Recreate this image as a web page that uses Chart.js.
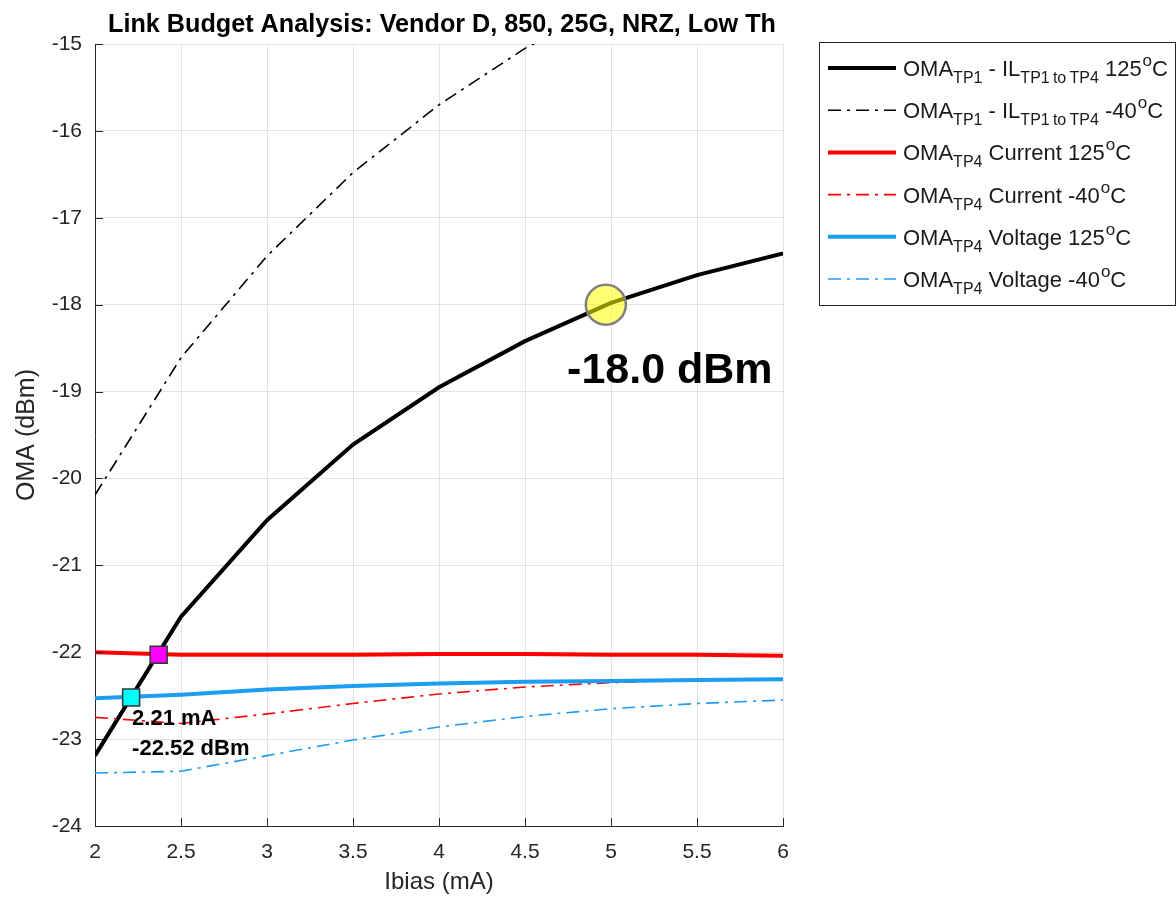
<!DOCTYPE html>
<html>
<head>
<meta charset="utf-8">
<title>Link Budget Analysis</title>
<script src="https://cdn.jsdelivr.net/npm/chart.js@4.4.1/dist/chart.umd.min.js"></script>
<style>
  html, body { margin: 0; padding: 0; background: #fff; }
  #wrap { width: 1176px; height: 897px; position: relative; }
</style>
</head>
<body>
<div id="wrap"><canvas id="chart"></canvas></div>
<script>
/* Link budget: OMA vs bias current, Vendor D */

// ─── Data ────────────────────────────────────────────────────────────────────

const ibias       = [2, 2.5, 3, 3.5, 4, 4.5, 5, 5.5, 6];
const tp1Hot      = [-23.19, -21.59, -20.48, -19.61, -18.95, -18.42, -17.98, -17.66, -17.41];
const tp1Cold     = [-20.19, -18.61, -17.44, -16.48, -15.70, -15.05, -14.55];
const currentHot  = [-22.00, -22.03, -22.03, -22.03, -22.02, -22.02, -22.03, -22.03, -22.04];
const currentCold = [-22.75, -22.82, -22.71, -22.59, -22.48, -22.40, -22.35, -22.32, -22.31];
const voltageHot  = [-22.53, -22.49, -22.43, -22.39, -22.36, -22.34, -22.33, -22.32, -22.31];
const voltageCold = [-23.39, -23.37, -23.19, -23.01, -22.86, -22.74, -22.65, -22.59, -22.55];

const crossCurrent = { x: 2.37, y: -22.03 };
const crossVoltage = { x: 2.21, y: -22.52 };
const target       = { x: 4.97, y: -18.0 };

const xTicks = [2, 2.5, 3, 3.5, 4, 4.5, 5, 5.5, 6];
const yTicks = [-24, -23, -22, -21, -20, -19, -18, -17, -16, -15];

// legend text pieces: [text, 'n' | 'sub' | 'sup']
const legendLabels = [
  [['OMA', 'n'], ['TP1', 'sub'], [' - IL', 'n'], ['TP1\u2009to\u2009TP4', 'sub'], [' 125', 'n'], ['o', 'sup'], ['C', 'n']],
  [['OMA', 'n'], ['TP1', 'sub'], [' - IL', 'n'], ['TP1\u2009to\u2009TP4', 'sub'], [' -40', 'n'], ['o', 'sup'], ['C', 'n']],
  [['OMA', 'n'], ['TP4', 'sub'], [' Current 125', 'n'], ['o', 'sup'], ['C', 'n']],
  [['OMA', 'n'], ['TP4', 'sub'], [' Current -40', 'n'], ['o', 'sup'], ['C', 'n']],
  [['OMA', 'n'], ['TP4', 'sub'], [' Voltage 125', 'n'], ['o', 'sup'], ['C', 'n']],
  [['OMA', 'n'], ['TP4', 'sub'], [' Voltage -40', 'n'], ['o', 'sup'], ['C', 'n']],
];

// ─── Styles ──────────────────────────────────────────────────────────────────

const RED  = '#ff0000';
const BLUE = '#1c9cf2';
const INK  = '#262626';
const DASH_DOT = [13, 6, 3, 6];
const FONT = '"Liberation Sans", Arial, Helvetica, sans-serif';

const toPoints = ys => ys.map((y, i) => ({ x: ibias[i], y }));

function series(label, ys, color, solid, order) {
  return {
    label,
    data: toPoints(ys),
    borderColor: color,
    backgroundColor: color,
    borderWidth: solid ? 4 : 1.6,
    borderDash: solid ? [] : DASH_DOT,
    pointRadius: 0,
    tension: 0,
    fill: false,
    order,
  };
}

const datasets = [
  series('OMA TP1 - IL 125°C', tp1Hot, '#000000', true, 6),
  series('OMA TP1 - IL -40°C', tp1Cold, '#000000', false, 7),
  series('OMA TP4 Current 125°C', currentHot, RED, true, 5),
  series('OMA TP4 Current -40°C', currentCold, RED, false, 4),
  series('OMA TP4 Voltage 125°C', voltageHot, BLUE, true, 3),
  series('OMA TP4 Voltage -40°C', voltageCold, BLUE, false, 2),
  {
    label: 'current crossing', data: [crossCurrent], showLine: false,
    pointStyle: 'rect', pointRadius: 12, pointBackgroundColor: '#ff00ff',
    pointBorderColor: '#333', pointBorderWidth: 1.5, order: 1,
  },
  {
    label: 'voltage crossing', data: [crossVoltage], showLine: false,
    pointStyle: 'rect', pointRadius: 12, pointBackgroundColor: '#00ffff',
    pointBorderColor: '#333', pointBorderWidth: 1.5, order: 1,
  },
  {
    label: 'target', data: [target], showLine: false,
    pointStyle: 'circle', pointRadius: 20, pointBackgroundColor: 'rgba(255,255,0,0.55)',
    pointBorderColor: '#808080', pointBorderWidth: 2.5, order: 0,
  },
];

// ─── Plugins ─────────────────────────────────────────────────────────────────

const decorations = {
  id: 'decorations',
  afterDatasetsDraw(chart) {
    const { ctx, chartArea: a, scales: { x, y } } = chart;
    ctx.save();

    // inward tick marks (MATLAB style)
    ctx.strokeStyle = INK;
    ctx.lineWidth = 1;
    ctx.beginPath();
    xTicks.forEach(v => {
      const px = Math.round(x.getPixelForValue(v)) + 0.5;
      ctx.moveTo(px, a.bottom); ctx.lineTo(px, a.bottom - 8);
    });
    yTicks.forEach(v => {
      const py = Math.round(y.getPixelForValue(v)) + 0.5;
      ctx.moveTo(a.left, py); ctx.lineTo(a.left + 8, py);
    });
    ctx.stroke();

    // annotations
    ctx.fillStyle = '#000';
    ctx.textBaseline = 'alphabetic';
    ctx.textAlign = 'left';
    ctx.font = `bold 22px ${FONT}`;
    const cx = x.getPixelForValue(crossVoltage.x);
    const cy = y.getPixelForValue(crossVoltage.y);
    ctx.fillText(`${crossVoltage.x.toFixed(2)} mA`, cx + 1, cy + 28);
    ctx.fillText(`${crossVoltage.y.toFixed(2)} dBm`, cx + 1, cy + 58);

    ctx.font = `bold 43px ${FONT}`;
    ctx.textAlign = 'center';
    const tx = x.getPixelForValue(target.x);
    const ty = y.getPixelForValue(target.y);
    ctx.fillText(`${target.y.toFixed(1)} dBm`, tx + 64, ty + 78);

    ctx.restore();
  },
  afterDraw(chart) {
    const { ctx, chartArea: a } = chart;
    ctx.save();

    // title, squeezed to the reference width
    const title = 'Link Budget Analysis: Vendor D, 850, 25G, NRZ, Low Th';
    ctx.font = `bold 25px ${FONT}`;
    ctx.fillStyle = '#000';
    ctx.textBaseline = 'alphabetic';
    ctx.textAlign = 'left';
    const w = ctx.measureText(title).width;
    ctx.translate((a.left + a.right) / 2 - 331, 32);
    ctx.scale(668 / w, 1);
    ctx.fillText(title, 0, 0);
    ctx.restore();

    // legend box
    ctx.save();
    const bx = 819.5, by = 42.5, bw = 356, bh = 263;
    ctx.fillStyle = '#fff';
    ctx.fillRect(bx, by, bw, bh);
    ctx.strokeStyle = INK;
    ctx.lineWidth = 1;
    ctx.strokeRect(bx, by, bw, bh);

    legendLabels.forEach((parts, i) => {
      const ds = chart.data.datasets[i];
      const rowY = 68 + i * 42.2;
      ctx.beginPath();
      ctx.strokeStyle = ds.borderColor;
      ctx.lineWidth = ds.borderWidth;
      ctx.setLineDash(ds.borderDash);
      ctx.moveTo(828, rowY); ctx.lineTo(896, rowY);
      ctx.stroke();
      ctx.setLineDash([]);

      let px = 903;
      ctx.fillStyle = '#1a1a1a';
      ctx.textBaseline = 'alphabetic';
      parts.forEach(([txt, kind]) => {
        let dy = 8;
        if (kind === 'sub') { ctx.font = `16px ${FONT}`; dy = 15; }
        else if (kind === 'sup') { ctx.font = `17px ${FONT}`; dy = -2; px += 1; }
        else { ctx.font = `22px ${FONT}`; }
        ctx.fillText(txt, px, rowY + dy);
        px += ctx.measureText(txt).width;
      });
    });
    ctx.restore();
  },
};

// ─── Chart ───────────────────────────────────────────────────────────────────

new Chart(document.getElementById('chart'), {
  type: 'line',
  data: { datasets },
  options: {
    responsive: true,
    maintainAspectRatio: false,
    animation: false,
    layout: { padding: { top: 44, right: 393, bottom: 0, left: 0 } },
    plugins: { legend: { display: false }, tooltip: { enabled: false }, title: { display: false } },
    scales: {
      x: {
        type: 'linear', min: 2, max: 6,
        afterFit: s => { s.height = 71; },
        afterBuildTicks: s => { s.ticks = xTicks.map(v => ({ value: v })); },
        grid: { color: '#e3e3e3', drawTicks: false },
        border: { color: INK, width: 1 },
        ticks: { color: INK, padding: 14, font: { family: FONT, size: 21 }, callback: v => String(v) },
        title: { display: true, text: 'Ibias (mA)', color: INK, padding: { top: 0, bottom: 0 }, font: { family: FONT, size: 24 } },
      },
      y: {
        type: 'linear', min: -24, max: -15,
        afterFit: s => { s.width = 95; },
        afterBuildTicks: s => { s.ticks = yTicks.map(v => ({ value: v })); },
        grid: { color: '#e3e3e3', drawTicks: false },
        border: { color: INK, width: 1 },
        ticks: { color: INK, padding: 13, font: { family: FONT, size: 21 }, callback: v => String(v) },
        title: { display: true, text: 'OMA (dBm)', color: INK, padding: { top: 12, bottom: 0 }, font: { family: FONT, size: 25 } },
      },
    },
  },
  plugins: [decorations],
});
</script>
</body>
</html>
